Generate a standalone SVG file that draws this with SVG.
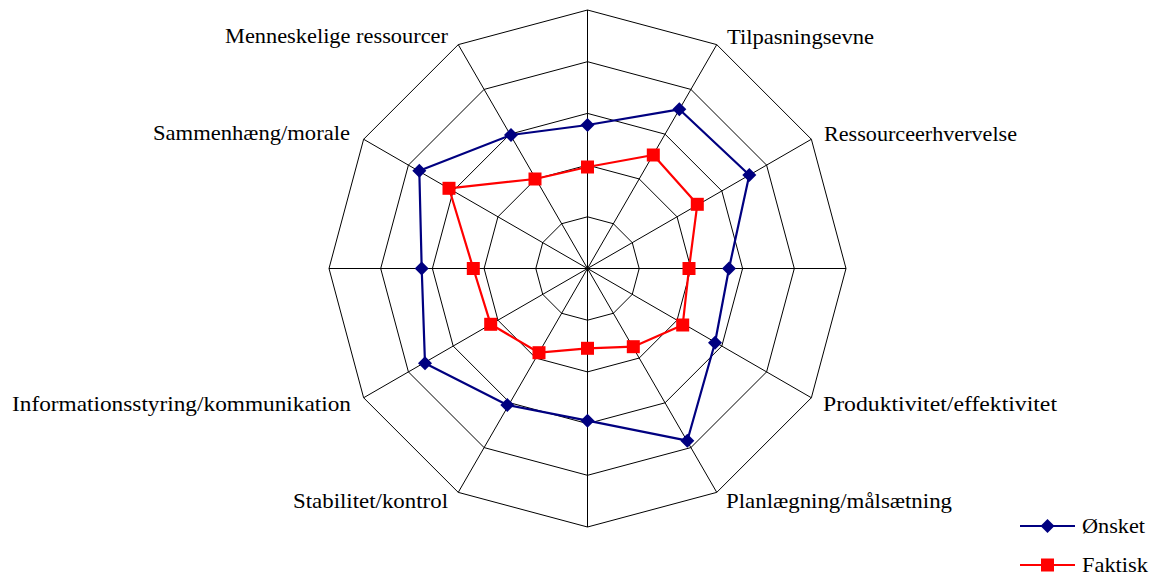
<svg xmlns="http://www.w3.org/2000/svg" xmlns:xlink="http://www.w3.org/1999/xlink" width="1154" height="576" viewBox="0 0 1154 576">
<style>
.grid{fill:none;stroke:#000;stroke-width:1}
.lbl{font-family:"Liberation Serif","Times New Roman",serif;font-size:22px;fill:#000}
.s1{fill:none;stroke:#000080;stroke-width:2.2;stroke-linejoin:round}
.s2{fill:none;stroke:#ff0000;stroke-width:2.2;stroke-linejoin:round}
.m1{fill:#000080}
.m2{fill:#ff0000}
</style>
<defs>
<path id="dia" d="M0,-7 L7,0 L0,7 L-7,0Z"/>
<rect id="sq" x="-6.5" y="-6.5" width="13" height="13"/>
</defs>
<rect width="1154" height="576" fill="#fff"/>
<g id="grid" class="grid">
<polygon points="587.5,10 716.75,44.63 811.37,139.25 846,268.5 811.37,397.75 716.75,492.37 587.5,527 458.25,492.37 363.63,397.75 329,268.5 363.63,139.25 458.25,44.63"/>
<polygon points="587.5,61.7 690.9,89.41 766.59,165.1 794.3,268.5 766.59,371.9 690.9,447.59 587.5,475.3 484.1,447.59 408.41,371.9 380.7,268.5 408.41,165.1 484.1,89.41"/>
<polygon points="587.5,113.4 665.05,134.18 721.82,190.95 742.6,268.5 721.82,346.05 665.05,402.82 587.5,423.6 509.95,402.82 453.18,346.05 432.4,268.5 453.18,190.95 509.95,134.18"/>
<polygon points="587.5,165.1 639.2,178.95 677.05,216.8 690.9,268.5 677.05,320.2 639.2,358.05 587.5,371.9 535.8,358.05 497.95,320.2 484.1,268.5 497.95,216.8 535.8,178.95"/>
<polygon points="587.5,216.8 613.35,223.73 632.27,242.65 639.2,268.5 632.27,294.35 613.35,313.27 587.5,320.2 561.65,313.27 542.73,294.35 535.8,268.5 542.73,242.65 561.65,223.73"/>
<path d="M587.5,268.5L587.5,10M587.5,268.5L716.75,44.63M587.5,268.5L811.37,139.25M587.5,268.5L846,268.5M587.5,268.5L811.37,397.75M587.5,268.5L716.75,492.37M587.5,268.5L587.5,527M587.5,268.5L458.25,492.37M587.5,268.5L363.63,397.75M587.5,268.5L329,268.5M587.5,268.5L363.63,139.25M587.5,268.5L458.25,44.63"/>
</g>
<g id="series-faktisk">
<polygon class="s2" points="587.5,167 653.3,155 697.3,204.3 689,268.5 682.7,325 633.3,346.7 587.5,348.3 539,352.7 490.7,324.3 473.3,268.5 449,188.3 535,179"/>
<g class="m2">
<use xlink:href="#sq" x="587.5" y="167"/><use xlink:href="#sq" x="653.3" y="155"/><use xlink:href="#sq" x="697.3" y="204.3"/><use xlink:href="#sq" x="689" y="268.5"/><use xlink:href="#sq" x="682.7" y="325"/><use xlink:href="#sq" x="633.3" y="346.7"/><use xlink:href="#sq" x="587.5" y="348.3"/><use xlink:href="#sq" x="539" y="352.7"/><use xlink:href="#sq" x="490.7" y="324.3"/><use xlink:href="#sq" x="473.3" y="268.5"/><use xlink:href="#sq" x="449" y="188.3"/><use xlink:href="#sq" x="535" y="179"/>
</g>
</g>
<g id="series-onsket">
<polygon class="s1" points="587.5,125 679.3,109.3 749.3,175 729,268.5 715,342.7 687.3,440.7 587.5,420.7 507.3,405 425,363.3 421.7,268.5 419.3,170.7 511,135"/>
<g class="m1">
<use xlink:href="#dia" x="587.5" y="125"/><use xlink:href="#dia" x="679.3" y="109.3"/><use xlink:href="#dia" x="749.3" y="175"/><use xlink:href="#dia" x="729" y="268.5"/><use xlink:href="#dia" x="715" y="342.7"/><use xlink:href="#dia" x="687.3" y="440.7"/><use xlink:href="#dia" x="587.5" y="420.7"/><use xlink:href="#dia" x="507.3" y="405"/><use xlink:href="#dia" x="425" y="363.3"/><use xlink:href="#dia" x="421.7" y="268.5"/><use xlink:href="#dia" x="419.3" y="170.7"/><use xlink:href="#dia" x="511" y="135"/>
</g>
</g>
<g id="labels" class="lbl">
<text x="225" y="43" textLength="223" lengthAdjust="spacingAndGlyphs">Menneskelige ressourcer</text>
<text x="727" y="44" textLength="147" lengthAdjust="spacingAndGlyphs">Tilpasningsevne</text>
<text x="824" y="141" textLength="193" lengthAdjust="spacingAndGlyphs">Ressourceerhvervelse</text>
<text x="153" y="140" textLength="197" lengthAdjust="spacingAndGlyphs">Sammenhæng/morale</text>
<text x="12" y="411" textLength="339" lengthAdjust="spacingAndGlyphs">Informationsstyring/kommunikation</text>
<text x="293" y="508" textLength="155" lengthAdjust="spacingAndGlyphs">Stabilitet/kontrol</text>
<text x="823" y="411" textLength="234" lengthAdjust="spacingAndGlyphs">Produktivitet/effektivitet</text>
<text x="726" y="508" textLength="226" lengthAdjust="spacingAndGlyphs">Planlægning/målsætning</text>
</g>
<g id="legend">
<line x1="1020" y1="526" x2="1075" y2="526" class="s1"/>
<use xlink:href="#dia" x="1047.5" y="526" class="m1"/>
<text x="1082" y="533" class="lbl" textLength="63" lengthAdjust="spacingAndGlyphs">Ønsket</text>
<line x1="1020" y1="565" x2="1075" y2="565" class="s2"/>
<use xlink:href="#sq" x="1047.5" y="565" class="m2"/>
<text x="1082" y="572" class="lbl" textLength="66" lengthAdjust="spacingAndGlyphs">Faktisk</text>
</g>
</svg>
